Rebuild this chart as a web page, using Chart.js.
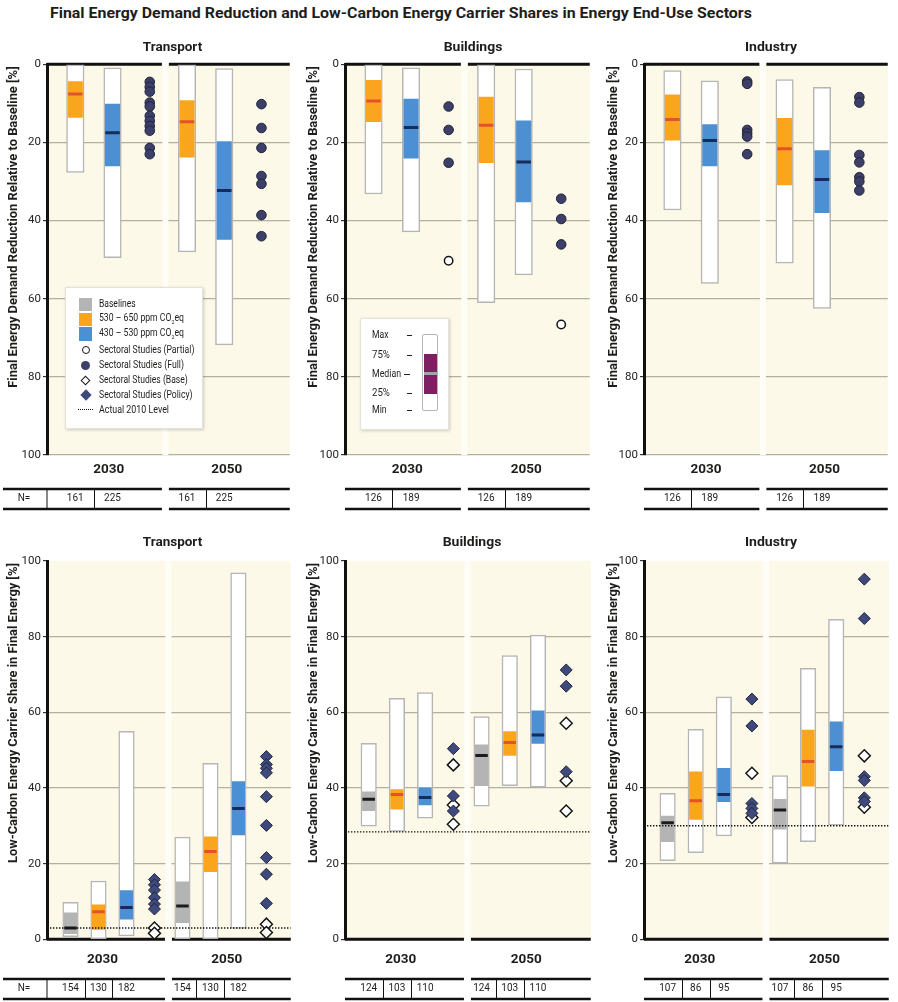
<!DOCTYPE html>
<html>
<head>
<meta charset="utf-8">
<script src="https://cdn.jsdelivr.net/npm/chart.js@4.4.1/dist/chart.umd.min.js"></script>
<style>
  body { margin: 0; background: #fff; font-family: Roboto, sans-serif; color: #1d1d1b; }
  #page { position: relative; width: 898px; height: 1002px; overflow: hidden; }
  canvas { position: absolute; }
  .t { position: absolute; white-space: nowrap; line-height: 1; }
  .main { left: 50px; top: 14px; font-weight: bold; font-size: 14.5px; transform-origin: left center; }
  .pt { font-weight: bold; font-size: 13.5px; }
  .yt { font-weight: bold; font-size: 12px; }
  .box { position: absolute; background: #fff; border: 1px solid #e4e2da; box-shadow: 1px 1px 3px rgba(0,0,0,0.18); }
  .lt { position: absolute; white-space: nowrap; font-size: 10px; line-height: 1; transform-origin: left center; }
  .sym { position: absolute; box-sizing: border-box; }
</style>
</head>
<body>
<div id="page">
  <canvas id="c1" width="300" height="482" style="left:0;top:30px"></canvas>
  <canvas id="c2" width="300" height="482" style="left:300px;top:30px"></canvas>
  <canvas id="c3" width="298" height="482" style="left:600px;top:30px"></canvas>
  <canvas id="c4" width="300" height="482" style="left:0;top:520px"></canvas>
  <canvas id="c5" width="300" height="482" style="left:300px;top:520px"></canvas>
  <canvas id="c6" width="298" height="482" style="left:600px;top:520px"></canvas>

  <div class="t main" data-w="702" data-pre="translateY(-50%)">Final Energy Demand Reduction and Low-Carbon Energy Carrier Shares in Energy End-Use Sectors</div>

  <div class="t pt" style="left:172.5px;top:47px" data-w="59" data-pre="translate(-50%,-50%)">Transport</div>
  <div class="t pt" style="left:472.5px;top:47px" data-w="59" data-pre="translate(-50%,-50%)">Buildings</div>
  <div class="t pt" style="left:771px;top:47px" data-w="52" data-pre="translate(-50%,-50%)">Industry</div>
  <div class="t pt" style="left:172.5px;top:541.5px" data-w="59" data-pre="translate(-50%,-50%)">Transport</div>
  <div class="t pt" style="left:472px;top:541.5px" data-w="59" data-pre="translate(-50%,-50%)">Buildings</div>
  <div class="t pt" style="left:770.5px;top:541.5px" data-w="52" data-pre="translate(-50%,-50%)">Industry</div>

  <div class="t yt" style="left:12.5px;top:227px" data-w="321" data-pre="translate(-50%,-50%) rotate(-90deg)">Final Energy Demand Reduction Relative to Baseline [%]</div>
  <div class="t yt" style="left:312.5px;top:227px" data-w="321" data-pre="translate(-50%,-50%) rotate(-90deg)">Final Energy Demand Reduction Relative to Baseline [%]</div>
  <div class="t yt" style="left:612.5px;top:227px" data-w="321" data-pre="translate(-50%,-50%) rotate(-90deg)">Final Energy Demand Reduction Relative to Baseline [%]</div>
  <div class="t yt" style="left:12.5px;top:713px" data-w="300" data-pre="translate(-50%,-50%) rotate(-90deg)">Low-Carbon Energy Carrier Share in Final Energy [%]</div>
  <div class="t yt" style="left:312.5px;top:713px" data-w="300" data-pre="translate(-50%,-50%) rotate(-90deg)">Low-Carbon Energy Carrier Share in Final Energy [%]</div>
  <div class="t yt" style="left:612.5px;top:713px" data-w="300" data-pre="translate(-50%,-50%) rotate(-90deg)">Low-Carbon Energy Carrier Share in Final Energy [%]</div>

  <!-- symbol legend -->
  <div class="box" style="left:65px;top:287px;width:136px;height:140px">
    <div class="sym" style="left:13px;top:10px;width:13px;height:13px;background:#b4b4b4"></div>
    <div class="sym" style="left:13px;top:25px;width:13px;height:13px;background:#f9a61e"></div>
    <div class="sym" style="left:13px;top:39px;width:13px;height:14px;background:#4c8fd2"></div>
    <div class="sym" style="left:15.5px;top:58px;width:8px;height:8px;border:1.5px solid #151515;border-radius:50%;background:#fff"></div>
    <div class="sym" style="left:15px;top:72.5px;width:9px;height:9px;border-radius:50%;background:#3c4069"></div>
    <div class="sym" style="left:16px;top:88.5px;width:7px;height:7px;border:1.5px solid #151515;background:#fff;transform:rotate(45deg)"></div>
    <div class="sym" style="left:15.5px;top:103px;width:8px;height:8px;background:#3f4a7c;transform:rotate(45deg)"></div>
    <div class="sym" style="left:12px;top:121px;width:15px;height:0;border-top:1.3px dotted #151515"></div>
    <div class="lt" style="left:33px;top:16px" data-w="36.7" data-pre="translateY(-50%)">Baselines</div>
    <div class="lt" style="left:33px;top:31px" data-w="85" data-pre="translateY(-50%)">530 – 650 ppm CO<sub style="font-size:6px">2</sub>eq</div>
    <div class="lt" style="left:33px;top:46px" data-w="85" data-pre="translateY(-50%)">430 – 530 ppm CO<sub style="font-size:6px">2</sub>eq</div>
    <div class="lt" style="left:33px;top:62px" data-w="95" data-pre="translateY(-50%)">Sectoral Studies (Partial)</div>
    <div class="lt" style="left:33px;top:77px" data-w="84.7" data-pre="translateY(-50%)">Sectoral Studies (Full)</div>
    <div class="lt" style="left:33px;top:92px" data-w="89" data-pre="translateY(-50%)">Sectoral Studies (Base)</div>
    <div class="lt" style="left:33px;top:107px" data-w="93.3" data-pre="translateY(-50%)">Sectoral Studies (Policy)</div>
    <div class="lt" style="left:33px;top:122px" data-w="70" data-pre="translateY(-50%)">Actual 2010 Level</div>
  </div>

  <!-- box-plot key -->
  <div class="box" style="left:360px;top:318px;width:87px;height:110px">
    <div class="lt" style="left:11px;top:16px" data-w="16.3" data-pre="translateY(-50%)">Max</div>
    <div class="lt" style="left:11px;top:36px" data-w="18.3" data-pre="translateY(-50%)">75%</div>
    <div class="lt" style="left:11px;top:55px" data-w="29" data-pre="translateY(-50%)">Median</div>
    <div class="lt" style="left:11px;top:74px" data-w="18.3" data-pre="translateY(-50%)">25%</div>
    <div class="lt" style="left:11px;top:91px" data-w="15" data-pre="translateY(-50%)">Min</div>
    <div class="sym" style="left:46px;top:16px;width:5px;height:1px;background:#222"></div>
    <div class="sym" style="left:46px;top:36px;width:5px;height:1px;background:#222"></div>
    <div class="sym" style="left:43px;top:55px;width:6px;height:1px;background:#222"></div>
    <div class="sym" style="left:46px;top:74px;width:5px;height:1px;background:#222"></div>
    <div class="sym" style="left:46px;top:91px;width:5px;height:1px;background:#222"></div>
    <div class="sym" style="left:61px;top:15px;width:16px;height:77px;border:1.3px solid #b5b5b5;background:#fff;border-radius:2px"></div>
    <div class="sym" style="left:62.5px;top:35px;width:13px;height:40px;background:#7f1f63"></div>
    <div class="sym" style="left:62.5px;top:53px;width:13px;height:3px;background:#a3a3a3"></div>
  </div>
</div>

<script>
// final energy demand reduction relative to baseline [%]
// each box: [min, 25%, median, 75%, max]
// order: 2030 530-650, 2030 430-530, 2050 530-650, 2050 430-530
const transportReduction = [[0, 4.4, 7.6, 13.6, 27.7], [0.9, 10.2, 17.5, 26.0, 49.5], [0, 9.3, 14.7, 23.8, 48.0], [1.1, 19.8, 32.3, 44.8, 71.8]];
const buildingsReduction = [[0, 4.1, 9.4, 14.7, 33.2], [0.9, 8.9, 16.2, 24.0, 42.9], [0, 8.4, 15.6, 25.2, 61.0], [1.2, 14.5, 25.0, 35.2, 53.9]];
const industryReduction = [[1.6, 7.8, 14.1, 19.4, 37.3], [4.2, 15.4, 19.5, 26.0, 56.1], [3.9, 13.8, 21.6, 30.9, 50.9], [5.9, 22.1, 29.5, 38.0, 62.5]];

// sectoral studies [2030, 2050]
const transportFull = [[4.5, 5.8, 7.0, 9.8, 10.8, 13.2, 14.5, 15.8, 17.0, 21.4, 23.0], [10.2, 16.3, 21.4, 28.6, 30.6, 38.6, 44.0]];
const transportPartial = [[], []];
const buildingsFull = [[10.8, 16.8, 25.2], [34.4, 39.6, 46.1]];
const buildingsPartial = [[50.3], [66.6]];
const industryFull = [[4.4, 5.0, 16.8, 17.7, 18.5, 23.0], [8.4, 9.8, 23.2, 25.1, 28.9, 30.0, 32.3]];
const industryPartial = [[], []];

// low-carbon energy carrier share in final energy [%]
// order: 2030 baseline, 530-650, 430-530, 2050 baseline, 530-650, 430-530
const transportShare = [[0.7, 1.5, 3.0, 7.0, 9.8], [0, 2.6, 7.3, 9.1, 15.4], [0.9, 5.3, 8.4, 12.9, 55.0], [0, 4.4, 8.8, 15.2, 27.0], [0, 17.9, 23.2, 27.1, 46.5], [2.9, 27.6, 34.6, 41.7, 96.9]];
const buildingsShare = [[29.9, 34.0, 37.0, 39.0, 51.8], [28.5, 34.4, 38.3, 39.6, 63.7], [32.0, 35.5, 37.5, 40.1, 65.2], [35.2, 40.6, 48.6, 51.4, 58.9], [40.6, 48.6, 52.0, 54.9, 75.0], [40.2, 51.8, 54.0, 60.4, 80.4]];
const industryShare = [[20.8, 25.8, 30.8, 32.6, 38.6], [22.9, 31.7, 36.6, 44.3, 55.5], [27.3, 36.4, 38.3, 45.2, 64.1], [20.1, 29.1, 34.2, 37.0, 43.3], [25.8, 40.5, 47.0, 55.3, 71.6], [30.2, 44.6, 50.9, 57.5, 84.6]];

const transportPolicy = [[15.8, 14.4, 13.0, 11.0, 9.3, 8.0], [48.3, 46.2, 45.2, 44.0, 37.7, 30.1, 21.6, 17.2, 9.5]];
const transportBase = [[3.0, 1.6], [4.0, 1.8]];
const buildingsPolicy = [[50.4, 37.9, 33.9], [71.2, 66.9, 44.3]];
const buildingsBase = [[46.1, 35.5, 30.4], [57.1, 41.9, 33.9]];
const industryPolicy = [[63.5, 56.4, 35.9, 34.6, 33.3], [95.2, 84.8, 43.0, 42.0, 37.4, 36.4]];
const industryBase = [[43.9, 32.2], [48.5, 34.9]];

// actual 2010 level
const level2010 = { transport: 3.0, buildings: 28.4, industry: 30.0 };

// number of scenarios per box
const years = ['2030', '2050'];
const nTransportTop = [161, 225];
const nBuildingsTop = [126, 189];
const nIndustryTop = [126, 189];
const nTransportBottom = [154, 130, 182];
const nBuildingsBottom = [124, 103, 110];
const nIndustryBottom = [107, 86, 95];

Chart.defaults.font.family = 'Roboto';
Chart.defaults.color = '#1d1d1b';

const colBase = '#b4b4b4', col650 = '#f9a61e', col530 = '#4c8fd2';
const medBase = '#1b1b1b', med650 = '#e3522b', med530 = '#152d5c';

// background, gap between the two years, heavy edge line, year labels, N= row
const panelDeco = {
  id: 'panelDeco',
  beforeDraw(chart, args, o) {
    const { ctx, chartArea: a } = chart;
    ctx.save();
    ctx.fillStyle = '#fdf9e8';
    ctx.fillRect(a.left, a.top, a.right - a.left, a.bottom - a.top);
    ctx.restore();
  },
  beforeDatasetsDraw(chart, args, o) {
    const { ctx, chartArea: a, scales: { x, y } } = chart;
    const gx = x.getPixelForValue(o.gap);
    ctx.save();
    ctx.fillStyle = '#fffdf7';
    ctx.fillRect(gx - 3, a.top, 6, a.bottom - a.top);
    const y0 = y.getPixelForValue(0);
    ctx.strokeStyle = '#111';
    ctx.lineWidth = 3;
    ctx.beginPath();
    ctx.moveTo(a.left, y0); ctx.lineTo(gx - 3.5, y0);
    ctx.moveTo(gx + 3.5, y0); ctx.lineTo(a.right, y0);
    ctx.stroke();
    ctx.restore();
  },
  afterDraw(chart, args, o) {
    const { ctx, chartArea: a, scales: { x } } = chart;
    const gx = x.getPixelForValue(o.gap);
    ctx.save();
    ctx.fillStyle = '#1d1d1b';
    ctx.textAlign = 'center';
    ctx.textBaseline = 'middle';
    ctx.font = 'bold 13.5px Roboto';
    years.forEach((yr, g) => ctx.fillText(yr, x.getPixelForValue(o.yearAt[g]), o.yearY));

    ctx.strokeStyle = '#111';
    ctx.lineWidth = 2.5;
    const segs = [[o.showN ? 3 : a.left, gx - 3.5], [gx + 3.5, a.right]];
    ctx.beginPath();
    segs.forEach(([l, r]) => {
      ctx.moveTo(l, o.tTop); ctx.lineTo(r, o.tTop);
      ctx.moveTo(l, o.tBot); ctx.lineTo(r, o.tBot);
    });
    ctx.stroke();

    ctx.lineWidth = 1;
    ctx.font = '10px Roboto';
    ctx.beginPath();
    if (o.showN) {
      ctx.moveTo(a.left, o.tTop); ctx.lineTo(a.left, o.tBot);
      ctx.fillText('N=', 24, o.tText);
    }
    o.nSlots.forEach((slots) => {
      slots.forEach((s, k) => {
        ctx.fillText(String(o.n[k]), x.getPixelForValue(s), o.tText);
        if (k < slots.length - 1) {
          const dx = Math.round(x.getPixelForValue(s + 0.5)) + 0.5;
          ctx.moveTo(dx, o.tTop); ctx.lineTo(dx, o.tBot);
        }
      });
    });
    ctx.stroke();
    ctx.restore();
  }
};

function makePanel(id, p) {
  const top = p.row === 'top';
  const boxSlots = top ? [0, 1, 3, 4] : [0, 1, 2, 4, 5, 6];
  const ptSlots = top ? [2, 5] : [3, 7];
  const boxCol = top ? [col650, col530, col650, col530] : [colBase, col650, col530, colBase, col650, col530];
  const medCol = top ? [med650, med530, med650, med530] : [medBase, med650, med530, medBase, med650, med530];
  const xMin = top ? -0.76 : -0.84;
  const xMax = top ? 5.76 : 7.87;
  const pts = (arrs) => arrs.flatMap((vals, g) => vals.map(v => ({ x: ptSlots[g], y: v })));

  const datasets = [
    {
      type: 'bar',
      data: p.boxes.map((b, i) => ({ x: boxSlots[i], y: [b[0], b[4]] })),
      backgroundColor: '#ffffff',
      borderColor: '#b5b5b5',
      borderWidth: 1.5,
      borderSkipped: false,
      barThickness: top ? 17.5 : 15.5,
      grouped: false,
      order: 6
    },
    {
      type: 'bar',
      data: p.boxes.map((b, i) => ({ x: boxSlots[i], y: [b[1], b[3]] })),
      backgroundColor: boxCol,
      borderWidth: 0,
      barThickness: top ? 14.5 : 12.5,
      grouped: false,
      order: 5
    },
    {
      type: 'scatter',
      data: p.boxes.map((b, i) => ({ x: boxSlots[i], y: b[2] })),
      pointStyle: 'line',
      pointRadius: top ? 7.25 : 6.25,
      pointBorderWidth: 3,
      pointBorderColor: medCol,
      order: 4
    },
    {
      type: 'scatter',
      data: pts(p.open),
      pointStyle: top ? 'circle' : 'rectRot',
      pointRadius: top ? 4.2 : 6,
      pointBackgroundColor: '#ffffff',
      pointBorderColor: '#151515',
      pointBorderWidth: 1.5,
      order: 2
    },
    {
      type: 'scatter',
      data: pts(p.filled),
      pointStyle: top ? 'circle' : 'rectRot',
      pointRadius: top ? 4.8 : 6,
      pointBackgroundColor: top ? '#3c4069' : '#3f4a7c',
      pointBorderColor: '#22243b',
      pointBorderWidth: 1,
      order: 1
    }
  ];
  if (p.level !== undefined) {
    datasets.push({
      type: 'line',
      data: [{ x: xMin, y: p.level }, { x: xMax, y: p.level }],
      borderColor: '#111',
      borderWidth: 1.4,
      borderDash: [1.4, 1.6],
      pointRadius: 0,
      order: 3
    });
  }

  return new Chart(document.getElementById(id), {
    type: 'bar',
    data: { datasets },
    options: {
      responsive: false,
      animation: false,
      events: [],
      layout: { padding: { top: top ? 34.3 : 41, bottom: top ? 57 : 62.7, left: 0, right: p.padR } },
      plugins: {
        legend: { display: false },
        tooltip: { enabled: false },
        panelDeco: {
          gap: top ? 2.42 : 3.5,
          yearAt: top ? [0.9, 4.07] : [1.14, 5.58],
          yearY: 440,
          tTop: 459, tText: 468.5, tBot: 479,
          showN: p.showN,
          n: p.n,
          nSlots: top ? [[0, 1], [3, 4]] : [[0, 1, 2], [4, 5, 6]]
        }
      },
      scales: {
        x: { type: 'linear', min: xMin, max: xMax, display: false, offset: false },
        y: {
          min: 0, max: 100, reverse: top,
          afterFit: (s) => { s.width = p.axisW; },
          ticks: { stepSize: 20, padding: 2, font: { size: 11.5 }, color: '#222' },
          grid: {
            color: (c) => (c.tick.value === 0 || (!top && c.tick.value === 100)) ? 'rgba(0,0,0,0)' : '#b4af9f',
            lineWidth: 1.2,
            tickLength: 4,
            tickColor: '#333'
          },
          border: { display: true, color: '#111', width: 3 }
        }
      }
    },
    plugins: [panelDeco]
  });
}

makePanel('c1', { row: 'top', boxes: transportReduction, filled: transportFull, open: transportPartial, n: nTransportTop, showN: true, axisW: 47, padR: 1 });
makePanel('c2', { row: 'top', boxes: buildingsReduction, filled: buildingsFull, open: buildingsPartial, n: nBuildingsTop, showN: false, axisW: 45, padR: 3 });
makePanel('c3', { row: 'top', boxes: industryReduction, filled: industryFull, open: industryPartial, n: nIndustryTop, showN: false, axisW: 44, padR: 0 });
makePanel('c4', { row: 'bottom', boxes: transportShare, filled: transportPolicy, open: transportBase, level: level2010.transport, n: nTransportBottom, showN: true, axisW: 47, padR: 1 });
makePanel('c5', { row: 'bottom', boxes: buildingsShare, filled: buildingsPolicy, open: buildingsBase, level: level2010.buildings, n: nBuildingsBottom, showN: false, axisW: 45, padR: 3 });
makePanel('c6', { row: 'bottom', boxes: industryShare, filled: industryPolicy, open: industryBase, level: level2010.industry, n: nIndustryBottom, showN: false, axisW: 44, padR: 0 });

// squeeze text to the condensed widths of the original
document.querySelectorAll('[data-w]').forEach(el => {
  const s = +el.dataset.w / el.offsetWidth;
  el.style.transform = (el.dataset.pre || '') + ' scaleX(' + s.toFixed(3) + ')';
});
</script>
</body>
</html>
